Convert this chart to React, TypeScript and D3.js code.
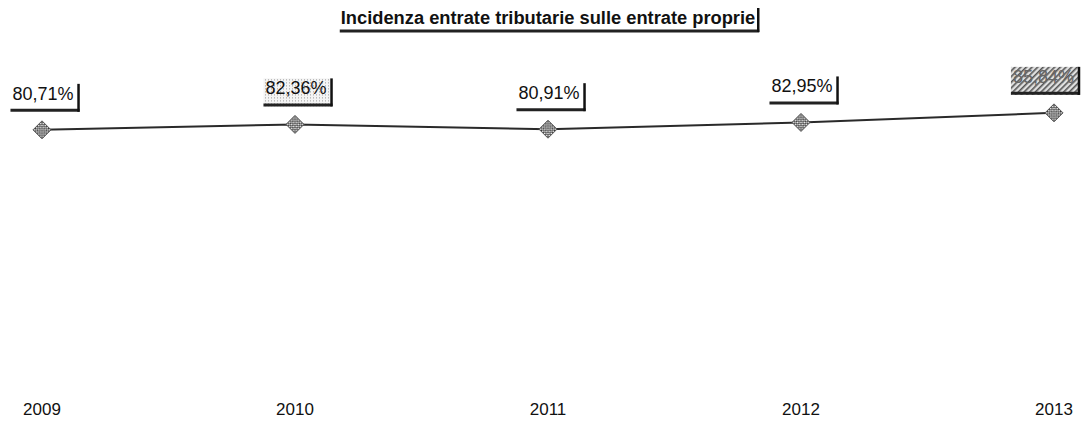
import React, { useEffect, useRef } from 'react';
import * as d3 from 'd3';

const years = ['2009', '2010', '2011', '2012', '2013'];
const values = [80.71, 82.36, 80.91, 82.95, 85.84];
const labels = ['80,71%', '82,36%', '80,91%', '82,95%', '85,84%'];
// label background style as seen in the scan: plain, dotted, heavy hatch
const labelFills = ['plain', 'dots', 'plain', 'plain', 'hatch'];
const title = 'Incidenza entrate tributarie sulle entrate proprie';

const App = () => {
  const ref = useRef<SVGSVGElement>(null);

  useEffect(() => {
    const width = 1081;
    const height = 421;
    const svg = d3.select(ref.current);
    svg.selectAll('*').remove();

    const defs = svg.append('defs');
    const checker = defs
      .append('pattern')
      .attr('id', 'checker')
      .attr('width', 3)
      .attr('height', 3)
      .attr('patternUnits', 'userSpaceOnUse')
      .attr('patternTransform', 'rotate(45)');
    checker.append('rect').attr('width', 3).attr('height', 3).attr('fill', '#f2f2f2');
    checker.append('rect').attr('width', 1.5).attr('height', 1.5).attr('fill', '#222');
    checker.append('rect').attr('x', 1.5).attr('y', 1.5).attr('width', 1.5).attr('height', 1.5).attr('fill', '#222');

    const dots = defs
      .append('pattern')
      .attr('id', 'dots')
      .attr('width', 3)
      .attr('height', 3)
      .attr('patternUnits', 'userSpaceOnUse');
    dots.append('rect').attr('width', 3).attr('height', 3).attr('fill', '#f4f4f4');
    dots.append('rect').attr('width', 1).attr('height', 1).attr('fill', '#999');

    const hatch = defs
      .append('pattern')
      .attr('id', 'hatch')
      .attr('width', 4)
      .attr('height', 4)
      .attr('patternUnits', 'userSpaceOnUse')
      .attr('patternTransform', 'rotate(45)');
    hatch.append('rect').attr('width', 4).attr('height', 4).attr('fill', '#e0e0e0');
    hatch.append('rect').attr('width', 1.6).attr('height', 4).attr('fill', '#555');

    const x = d3.scalePoint<string>().domain(years).range([42, 1054]);
    const y = d3.scaleLinear().domain([0, 100]).range([397, 66]);

    // title
    const tg = svg.append('g');
    const tt = tg
      .append('text')
      .attr('x', 548)
      .attr('y', 24)
      .attr('text-anchor', 'middle')
      .style('font', 'bold 18.3px "Liberation Sans", Arial, sans-serif')
      .attr('fill', '#111')
      .text(title);
    const tb = (tt.node() as SVGTextElement).getBBox();
    tg.append('line')
      .attr('x1', tb.x - 1)
      .attr('x2', tb.x + tb.width + 4)
      .attr('y1', 31)
      .attr('y2', 31)
      .attr('stroke', '#222')
      .attr('stroke-width', 3);
    tg.append('line')
      .attr('x1', tb.x + tb.width + 3)
      .attr('x2', tb.x + tb.width + 3)
      .attr('y1', 8)
      .attr('y2', 32)
      .attr('stroke', '#111')
      .attr('stroke-width', 2.5);

    // line
    const line = d3
      .line<number>()
      .x((_, i) => x(years[i]) as number)
      .y((d) => y(d));
    svg
      .append('path')
      .datum(values)
      .attr('d', line)
      .attr('fill', 'none')
      .attr('stroke', '#2a2a2a')
      .attr('stroke-width', 2);

    // markers
    svg
      .append('g')
      .selectAll('path')
      .data(values)
      .join('path')
      .attr('transform', (d, i) => `translate(${x(years[i])},${y(d)})`)
      .attr('d', 'M0,-9L9,0L0,9L-9,0Z')
      .attr('fill', 'url(#checker)')
      .attr('stroke', '#555')
      .attr('stroke-width', 1);

    // data labels
    const lg = svg
      .append('g')
      .selectAll('g')
      .data(values)
      .join('g')
      .attr('transform', (d, i) => `translate(${x(years[i])},${y(d) - 18})`);
    lg.each(function (d, i) {
      const g = d3.select(this);
      const kind = labelFills[i];
      const cx = x(years[i]) as number;
      const bg = g.append('rect');
      const t = g
        .append('text')
        .attr('x', 1)
        .attr('y', -12)
        .attr('text-anchor', 'middle')
        .style('font', '18px "Liberation Sans", Arial, sans-serif')
        .attr('fill', kind === 'hatch' ? '#666' : '#111')
        .text(labels[i]);
      let b = (t.node() as SVGTextElement).getBBox();
      const over = cx + b.x + b.width + 6 - 1080;
      if (over > 0) t.attr('x', 1 - over);
      b = (t.node() as SVGTextElement).getBBox();
      const left = b.x - 2;
      const right = b.x + b.width + 5;
      const bh = 28;
      bg.attr('x', left)
        .attr('y', -bh)
        .attr('width', right - left)
        .attr('height', bh)
        .attr('fill', kind === 'plain' ? '#fff' : kind === 'dots' ? 'url(#dots)' : 'url(#hatch)');
      g.append('line')
        .attr('x1', left)
        .attr('x2', right + 1)
        .attr('y1', -1.5)
        .attr('y2', -1.5)
        .attr('stroke', '#222')
        .attr('stroke-width', 3);
      g.append('line')
        .attr('x1', right)
        .attr('x2', right)
        .attr('y1', -bh)
        .attr('y2', 0)
        .attr('stroke', '#111')
        .attr('stroke-width', 2.5);
    });

    // category labels
    svg
      .append('g')
      .selectAll('text')
      .data(years)
      .join('text')
      .attr('x', (d) => x(d) as number)
      .attr('y', 415)
      .attr('text-anchor', 'middle')
      .style('font', '17px "Liberation Sans", Arial, sans-serif')
      .attr('fill', '#111')
      .text((d) => d);

    svg.attr('width', width).attr('height', height);
  }, []);

  return (
    <div style={{ position: 'absolute', left: 0, top: 0 }}>
      <svg ref={ref} width={1081} height={421} style={{ display: 'block', background: '#fff' }} />
    </div>
  );
};

export default App;
